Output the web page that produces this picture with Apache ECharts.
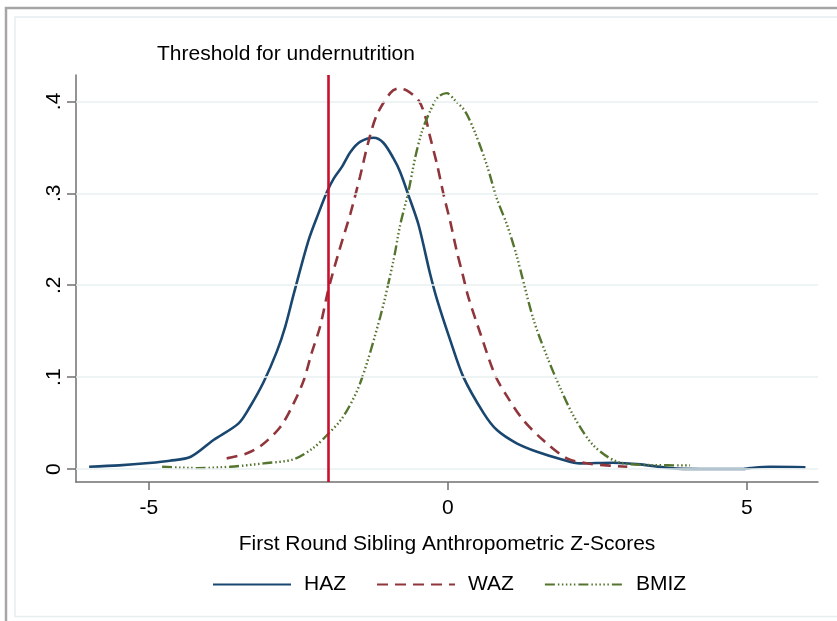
<!DOCTYPE html>
<html>
<head>
<meta charset="utf-8">
<script src="https://cdn.jsdelivr.net/npm/echarts@6.0.0/dist/echarts.min.js"></script>
<style>
html,body{margin:0;padding:0;background:#fff;}
#chart{width:837px;height:621px;}
</style>
</head>
<body>
<div id="chart"></div>
<script>
// ---- Data ----
const hazX = [-6.0,-5.5,-5.0,-4.65,-4.3,-3.92,-3.5,-3.31,-3.08,-2.86,-2.72,-2.58,-2.33,-2.16,-2.02,-1.91,-1.77,-1.63,-1.47,-1.24,-1.08,-0.91,-0.80,-0.66,-0.49,-0.30,-0.18,0.04,0.26,0.60,0.82,1.15,1.49,1.88,2.21,2.76,3.22,3.72,4.22,4.94,5.05,5.39,5.98];
const hazY = [0.0025,0.004,0.0065,0.009,0.0134,0.0316,0.0497,0.0678,0.095,0.128,0.155,0.19,0.249,0.279,0.302,0.316,0.329,0.345,0.356,0.3605,0.355,0.338,0.3235,0.298,0.2655,0.213,0.184,0.140,0.100,0.0606,0.0424,0.028,0.0188,0.011,0.0062,0.0069,0.0051,0.001,0.0,0.0,0.001,0.0025,0.002];

const wazX = [-3.70,-3.36,-3.11,-2.80,-2.58,-2.41,-2.28,-2.14,-2.00,-1.83,-1.63,-1.47,-1.33,-1.19,-0.965,-0.83,-0.69,-0.49,-0.38,-0.30,-0.18,-0.07,0.04,0.15,0.25,0.34,0.54,0.79,0.99,1.26,1.60,1.99,2.32,2.71,3.00];
const wazY = [0.0116,0.0171,0.0261,0.046,0.0714,0.0968,0.126,0.1545,0.195,0.235,0.278,0.318,0.356,0.385,0.409,0.414,0.412,0.401,0.384,0.362,0.331,0.298,0.269,0.2365,0.211,0.1875,0.148,0.102,0.079,0.0533,0.031,0.0116,0.0062,0.0037,0.0025];

const bmiX = [-4.78,-4.20,-3.64,-3.08,-2.58,-2.25,-2.02,-1.75,-1.47,-1.13,-0.91,-0.80,-0.66,-0.55,-0.435,-0.30,-0.16,-0.02,0.12,0.29,0.46,0.65,0.82,0.99,1.15,1.43,1.66,1.88,2.10,2.43,2.83,3.38,4.05];
const bmiY = [0.0025,0.001,0.0025,0.0062,0.0106,0.023,0.037,0.057,0.093,0.166,0.227,0.265,0.302,0.338,0.367,0.389,0.405,0.409,0.401,0.389,0.365,0.331,0.294,0.2655,0.232,0.163,0.122,0.088,0.058,0.026,0.008,0.0043,0.004];

const seriesNames = ['HAZ', 'WAZ', 'BMIZ'];
const xTicks = [-5, 0, 5];
const yTicks = [0, 0.1, 0.2, 0.3, 0.4];
const thresholdX = -2;
const thresholdLabel = 'Threshold for undernutrition';
const xAxisTitle = 'First Round Sibling Anthropometric Z-Scores';

// ---- Build ----
const zip = (xs, ys) => xs.map((x, i) => [x, ys[i]]);
const FONT = '"Liberation Sans", Arial, sans-serif';

const chart = echarts.init(document.getElementById('chart'), null, {renderer: 'canvas'});
chart.setOption({
  animation: false,
  backgroundColor: '#ffffff',
  textStyle: {fontFamily: FONT},
  title: {
    text: thresholdLabel,
    left: 157, top: 44, padding: 0,
    textStyle: {fontFamily: FONT, fontSize: 21, fontWeight: 'normal', color: '#000'}
  },
  graphic: [
    {type: 'rect', shape: {x: 6, y: 8, width: 900, height: 700}, style: {fill: 'none', stroke: '#a6a6a6', lineWidth: 2.5}, z: -10},
    {type: 'rect', shape: {x: 15, y: 17, width: 900, height: 599.5}, style: {fill: 'none', stroke: '#e6eeef', lineWidth: 1.5}, z: -10}
  ],
  legend: {
    data: seriesNames,
    left: 212, top: 574, padding: 0,
    itemWidth: 78, itemHeight: 14, itemGap: 30,
    itemStyle: {color: 'rgba(0,0,0,0)', borderColor: 'rgba(0,0,0,0)', borderWidth: 0},
    textStyle: {fontFamily: FONT, fontSize: 21, color: '#000', padding: [0, 0, 0, 8]}
  },
  grid: {left: 76, right: 19, top: 75, bottom: 139, containLabel: false, outerBoundsMode: 'none'},
  xAxis: {
    type: 'value', min: -6.22, max: 6.19,
    name: xAxisTitle, nameLocation: 'middle', nameGap: 52,
    nameTextStyle: {fontFamily: FONT, fontSize: 21, color: '#000'},
    axisLine: {show: true, onZero: false, lineStyle: {color: '#707070', width: 1.5}},
    axisTick: {show: true, length: 8, customValues: xTicks, lineStyle: {color: '#707070', width: 1.5}},
    axisLabel: {customValues: xTicks, fontFamily: FONT, fontSize: 21, color: '#000', margin: 16},
    splitLine: {show: false}
  },
  yAxis: {
    type: 'value', min: -0.0141, max: 0.4287,
    axisLine: {show: true, onZero: false, lineStyle: {color: '#707070', width: 1.5}},
    axisTick: {show: true, length: 9, customValues: yTicks, lineStyle: {color: '#707070', width: 1.5}},
    axisLabel: {
      customValues: yTicks, rotate: 90, margin: 11,
      fontFamily: FONT, fontSize: 21, color: '#000',
      formatter: v => (Math.abs(v) < 1e-9 ? '0' : String(Math.round(v * 10) / 10).replace(/^0\./, '.'))
    },
    splitLine: {show: false}
  },
  series: [
    {
      name: 'grid', type: 'line', data: [], silent: true, z: 1,
      markLine: {
        silent: true, symbol: ['none', 'none'], label: {show: false},
        lineStyle: {color: '#e8eff1', width: 1.5, type: 'solid'},
        data: yTicks.map(v => ({yAxis: v}))
      }
    },
    {
      name: 'HAZ', type: 'line', data: zip(hazX, hazY), symbol: 'none', smooth: 0.3, z: 3,
      lineStyle: {color: '#1a476f', width: 2.6, type: 'solid'},
      itemStyle: {color: '#1a476f'}
    },
    {
      name: 'WAZ', type: 'line', data: zip(wazX, wazY), symbol: 'none', smooth: 0.3, z: 3,
      lineStyle: {color: '#90353b', width: 2.6, type: [11, 7]},
      itemStyle: {color: '#90353b'}
    },
    {
      name: 'BMIZ', type: 'line', data: zip(bmiX, bmiY), symbol: 'none', smooth: 0.3, z: 3,
      lineStyle: {color: '#55752f', width: 2.4, type: [10, 3, 1.5, 2.5, 1.5, 2.5, 1.5, 2.5, 1.5, 2.5, 1.5, 3]},
      itemStyle: {color: '#55752f'}
    },
    {
      name: 'threshold', type: 'line', data: [], silent: true, z: 5,
      markLine: {
        silent: true, symbol: ['none', 'none'], label: {show: false},
        lineStyle: {color: '#c8102e', width: 2.6, type: 'solid'},
        data: [{xAxis: thresholdX}]
      }
    }
  ]
});
</script>
</body>
</html>
